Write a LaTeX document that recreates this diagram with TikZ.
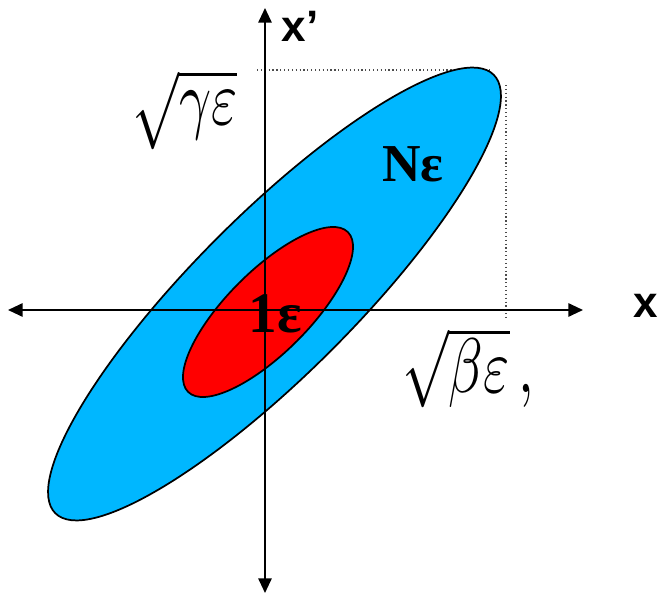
\documentclass[tikz,border=0pt]{standalone}
\usepackage{fontspec,graphicx}
\usetikzlibrary{arrows.meta}
\newfontfamily\axisfont{Liberation Sans}
\newfontfamily\epsfont{Liberation Serif}
\definecolor{beamblue}{RGB}{0,183,255}
\definecolor{corered}{RGB}{255,0,0}

\begin{document}
\begin{tikzpicture}[x=0.75pt, y=0.75pt,
    axis/.style={{Triangle[length=11pt, width=10pt]}-{Triangle[length=11pt, width=10pt]}, line width=1.4pt, black},
    guide/.style={dotted, line width=0.9pt, black!70},
    shell/.style={draw=black, line width=1.3pt},
    axlabel/.style={font=\axisfont\bfseries\fontsize{33}{36}\selectfont, inner sep=0pt},
    emitlabel/.style={inner sep=0pt},
]
\useasboundingbox (0,0) rectangle (661,597);

% Phase space ellipses
\coordinate (bc) at (274.5,303);
\coordinate (rc) at (268,285);

\coordinate (gtop) at (257,527);
\coordinate (gtopend) at (492,527);
\coordinate (gright) at (506,512);
\coordinate (grightend) at (506,279);
\draw[guide] (gtop) -- (gtopend);
\draw[guide] (gright) -- (grightend);

\fill[beamblue, rotate around={45:(bc)}] (bc) ellipse [x radius=310, y radius=80];
\draw[shell, rotate around={45:(bc)}] (bc) ellipse [x radius=310, y radius=80];
\fill[corered, rotate around={45:(rc)}] (rc) ellipse [x radius=113, y radius=41];
\draw[shell, rotate around={45:(rc)}] (rc) ellipse [x radius=113, y radius=41];

% Axes
\coordinate (xl) at (8,287);
\coordinate (xr) at (583,287);
\coordinate (yb) at (265,4);
\coordinate (yt) at (265,589);
\draw[axis] (xl) -- (xr);
\draw[axis] (yb) -- (yt);

\node[axlabel] (xlab) at (646,291) {x};
\node[axlabel] (xplab) at (300,571) {x’};

\node[emitlabel, font=\epsfont\bfseries\fontsize{40}{44}\selectfont] (nlab) at (413,433) {Nε};
\node[emitlabel, font=\epsfont\bfseries\fontsize{43}{46}\selectfont] (onelab) at (275,283) {1ε};

\node[inner sep=0pt] (glab) at (185,487) {\scalebox{4.2}[5.8]{$\sqrt{\gamma\varepsilon}$}};
\node[inner sep=0pt, anchor=west] (blab) at (402,229) {\scalebox{4.2}[5.8]{$\sqrt{\beta\varepsilon}\,,$}};
\end{tikzpicture}
\end{document}
